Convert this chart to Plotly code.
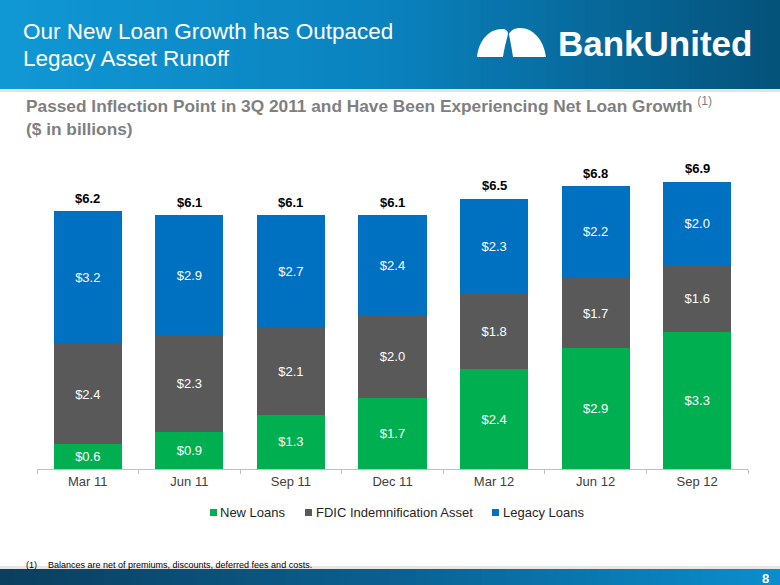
import plotly.graph_objects as go

# ---------------- data ----------------
categories = ["Mar 11", "Jun 11", "Sep 11", "Dec 11", "Mar 12", "Jun 12", "Sep 12"]
new_loans = [0.6, 0.9, 1.3, 1.7, 2.4, 2.9, 3.3]
fdic_asset = [2.4, 2.3, 2.1, 2.0, 1.8, 1.7, 1.6]
legacy_loans = [3.2, 2.9, 2.7, 2.4, 2.3, 2.2, 2.0]
totals = [6.2, 6.1, 6.1, 6.1, 6.5, 6.8, 6.9]
total_labels = ["$6.2", "$6.1", "$6.1", "$6.1", "$6.5", "$6.8", "$6.9"]
series_names = ["New Loans", "FDIC Indemnification Asset", "Legacy Loans"]
series_colors = ["#00B050", "#595959", "#0070C0"]

FONT = "Arial, Liberation Sans, sans-serif"
W, H = 780, 585
L, R, T, B = 37, 32, 157, 116
PW, PH = W - L - R, H - T - B


def X(px):
    return (px - L) / PW


def Y(py):
    return (H - B - py) / PH


fig = go.Figure()
for name, vals, col in zip(series_names, [new_loans, fdic_asset, legacy_loans], series_colors):
    fig.add_trace(go.Bar(
        x=categories, y=vals, name=name,
        marker=dict(color=col, line=dict(width=0)),
        texttemplate="$%{y:.1f}", textposition="inside",
        insidetextanchor="middle",
        textfont=dict(family=FONT, size=13, color="white"),
        constraintext="none", showlegend=False,
    ))


def lerp(c1, c2, t):
    return tuple(int(round(a + (b - a) * t)) for a, b in zip(c1, c2))


def grad(stops, t):
    for i in range(len(stops) - 1):
        p0, c0 = stops[i]
        p1, c1 = stops[i + 1]
        if p0 <= t <= p1:
            return lerp(c0, c1, (t - p0) / (p1 - p0))
    return stops[-1][1]


shapes = []
N = 60
head_stops = [(0, (16, 152, 213)), (0.5, (10, 130, 190)), (1, (4, 82, 122))]
foot_stops = [(0, (10, 62, 94)), (0.5, (10, 96, 145)), (1, (10, 142, 205))]
for i in range(N):
    x0 = W * i / N
    x1 = W * (i + 1) / N + 1
    c = grad(head_stops, (i + 0.5) / N)
    shapes.append(dict(type="rect", xref="paper", yref="paper",
                       x0=X(x0), x1=X(x1), y0=Y(89), y1=Y(0),
                       fillcolor="rgb(%d,%d,%d)" % c, line=dict(width=0)))
    c = grad(foot_stops, (i + 0.5) / N)
    shapes.append(dict(type="rect", xref="paper", yref="paper",
                       x0=X(x0), x1=X(x1), y0=Y(585), y1=Y(569),
                       fillcolor="rgb(%d,%d,%d)" % c, line=dict(width=0)))
shapes.append(dict(type="rect", xref="paper", yref="paper", x0=X(0), x1=X(780),
                   y0=Y(92), y1=Y(89), fillcolor="#e3e3e3", line=dict(width=0)))
shapes.append(dict(type="rect", xref="paper", yref="paper", x0=X(0), x1=X(780),
                   y0=Y(569), y1=Y(566), fillcolor="#e6e6e6", line=dict(width=0)))


def path(pts):
    s = ""
    for cmd, coords in pts:
        s += cmd
        s += " ".join("%.5f,%.5f" % (X(a), Y(b)) for a, b in coords) + " "
    return s + "Z"


left_lobe = path([
    ("M", [(477, 57)]),
    ("C", [(479, 40), (489, 29), (502, 29)]),
    ("C", [(506, 29), (508, 31), (508, 34)]),
    ("C", [(506, 42), (504, 50), (503, 57)]),
])
right_lobe = path([
    ("M", [(513, 57)]),
    ("C", [(512, 49), (510, 40), (509, 34)]),
    ("C", [(511, 30), (515, 28), (520, 28)]),
    ("C", [(534, 28), (544, 41), (546, 57)]),
])
for p in (left_lobe, right_lobe):
    shapes.append(dict(type="path", xref="paper", yref="paper", path=p,
                       fillcolor="white", line=dict(width=0)))

# manual legend squares
legend_sq_x = [210, 305, 492]
legend_txt_x = [218, 314, 501]
for sx, col in zip(legend_sq_x, series_colors):
    shapes.append(dict(type="rect", xref="paper", yref="paper",
                       x0=X(sx), x1=X(sx + 7), y0=Y(516), y1=Y(509),
                       fillcolor=col, line=dict(width=0)))

annotations = [
    dict(text="Our New Loan Growth has Outpaced", x=X(21), y=Y(31)),
    dict(text="Legacy Asset Runoff", x=X(21), y=Y(58)),
]
for a in annotations:
    a.update(xref="paper", yref="paper", xanchor="left", yanchor="middle",
             showarrow=False, font=dict(family=FONT, size=22.5, color="white"))

annotations.append(dict(text="<b>BankUnited</b>", x=X(556), y=Y(44), xref="paper",
                        yref="paper", xanchor="left", yanchor="middle", showarrow=False,
                        font=dict(family=FONT, size=35, color="white")))
annotations.append(dict(
    text="<b>Passed Inflection Point in 3Q 2011 and Have Been Experiencing Net Loan Growth</b> <sup>(1)</sup>",
    x=X(24), y=Y(105), xref="paper", yref="paper", xanchor="left", yanchor="middle",
    showarrow=False, font=dict(family=FONT, size=17.3, color="#7f7f7f")))
annotations.append(dict(
    text="<b>($ in billions)</b>",
    x=X(24), y=Y(129), xref="paper", yref="paper", xanchor="left", yanchor="middle",
    showarrow=False, font=dict(family=FONT, size=17.3, color="#7f7f7f")))
annotations.append(dict(text="(1)", x=X(24), y=Y(565), xref="paper", yref="paper",
                        xanchor="left", yanchor="middle", showarrow=False,
                        font=dict(family=FONT, size=9, color="#000000")))
annotations.append(dict(text="Balances are net of premiums, discounts, deferred fees and costs.",
                        x=X(46), y=Y(565), xref="paper", yref="paper",
                        xanchor="left", yanchor="middle", showarrow=False,
                        font=dict(family=FONT, size=9, color="#000000")))
annotations.append(dict(text="<b>8</b>", x=X(765), y=Y(578), xref="paper", yref="paper",
                        xanchor="center", yanchor="middle", showarrow=False,
                        font=dict(family=FONT, size=13, color="white")))

for tx, name in zip(legend_txt_x, series_names):
    annotations.append(dict(text=name, x=X(tx), y=Y(512), xref="paper", yref="paper",
                            xanchor="left", yanchor="middle", showarrow=False,
                            font=dict(family=FONT, size=13, color="#262626")))

for cat, tot, lab in zip(categories, totals, total_labels):
    annotations.append(dict(text="<b>" + lab + "</b>", x=cat, y=tot, xref="x", yref="y",
                            xanchor="center", yanchor="middle", yshift=13,
                            showarrow=False,
                            font=dict(family=FONT, size=13, color="#000000")))

fig.update_layout(
    width=W, height=H,
    margin=dict(l=L, r=R, t=T, b=B, pad=0),
    paper_bgcolor="white", plot_bgcolor="white",
    barmode="stack", bargap=0.33,
    font=dict(family=FONT, color="#262626"),
    showlegend=False,
    xaxis=dict(showline=True, linecolor="#bfbfbf", linewidth=1,
               ticks="outside", tickson="boundaries", ticklen=4, tickcolor="#bfbfbf",
               tickfont=dict(family=FONT, size=13, color="#404040"),
               showgrid=False, fixedrange=True),
    yaxis=dict(range=[0, 7.5], visible=False, showgrid=False, fixedrange=True),
    shapes=shapes,
    annotations=annotations,
)

fig.write_html("out.html")
